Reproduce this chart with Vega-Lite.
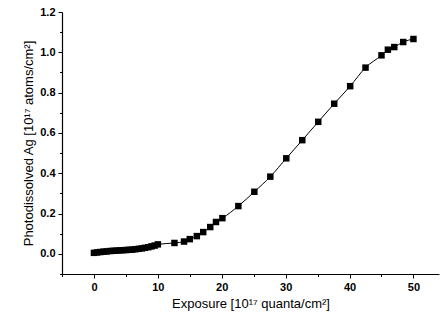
{
  "$schema": "https://vega.github.io/schema/vega-lite/v6.json",
  "autosize": {"type": "none"},
  "width": 377,
  "height": 262,
  "padding": {"left": 62, "top": 12, "right": 4, "bottom": 46},
  "background": "white",
  "config": {
    "view": {"stroke": null},
    "axis": {
      "domainColor": "black",
      "tickColor": "black",
      "labelColor": "black",
      "titleColor": "black",
      "labelFont": "Liberation Sans",
      "titleFont": "Liberation Sans",
      "labelFontWeight": "bold",
      "titleFontWeight": "normal",
      "labelFontSize": 11,
      "titleFontSize": 13,
      "grid": false,
      "domainWidth": 1.2,
      "tickWidth": 1
    }
  },
  "data": {
    "values": [
      {"x": 0, "y": 0.005}, {"x": 0.5, "y": 0.007}, {"x": 1, "y": 0.009}, {"x": 1.5, "y": 0.011},
      {"x": 2, "y": 0.012}, {"x": 2.5, "y": 0.014}, {"x": 3, "y": 0.015}, {"x": 3.5, "y": 0.016},
      {"x": 4, "y": 0.017}, {"x": 4.5, "y": 0.018}, {"x": 5, "y": 0.019}, {"x": 5.5, "y": 0.020},
      {"x": 6, "y": 0.021}, {"x": 6.5, "y": 0.023}, {"x": 7, "y": 0.025}, {"x": 7.5, "y": 0.027},
      {"x": 8, "y": 0.030}, {"x": 8.5, "y": 0.033}, {"x": 9, "y": 0.037}, {"x": 9.5, "y": 0.041},
      {"x": 10, "y": 0.047},
      {"x": 12.6, "y": 0.054}, {"x": 14.1, "y": 0.061}, {"x": 15.0, "y": 0.073}, {"x": 16.1, "y": 0.088},
      {"x": 17.1, "y": 0.108}, {"x": 18.2, "y": 0.133}, {"x": 19.1, "y": 0.158}, {"x": 20.1, "y": 0.177},
      {"x": 22.6, "y": 0.237}, {"x": 25.1, "y": 0.308}, {"x": 27.6, "y": 0.383}, {"x": 30.1, "y": 0.474},
      {"x": 32.6, "y": 0.564}, {"x": 35.1, "y": 0.655}, {"x": 37.6, "y": 0.745}, {"x": 40.1, "y": 0.832},
      {"x": 42.5, "y": 0.924}, {"x": 45.0, "y": 0.985}, {"x": 46.0, "y": 1.013}, {"x": 47.0, "y": 1.026},
      {"x": 48.4, "y": 1.051}, {"x": 50.0, "y": 1.066}
    ]
  },
  "resolve": {"axis": {"x": "independent", "y": "independent"}},
  "layer": [
    {
      "mark": {"type": "line", "color": "black", "strokeWidth": 1, "interpolate": "monotone"},
      "encoding": {
        "x": {"field": "x", "type": "quantitative", "scale": {"domain": [-5, 54], "nice": false, "zero": false},
          "axis": {"orient": "bottom", "values": [0, 10, 20, 30, 40, 50], "tickSize": 4, "labelPadding": 3,
            "title": "Exposure [10¹⁷ quanta/cm²]", "titlePadding": 5}},
        "y": {"field": "y", "type": "quantitative", "scale": {"domain": [-0.1, 1.2], "nice": false, "zero": false},
          "axis": {"orient": "left", "values": [0, 0.2, 0.4, 0.6, 0.8, 1.0, 1.2], "format": ".1f", "tickSize": 4, "labelPadding": 3,
            "title": "Photodissolved Ag [10¹⁷ atoms/cm²]", "titlePadding": 4}}
      }
    },
    {
      "mark": {"type": "point", "shape": "square", "filled": true, "color": "black", "size": 42, "opacity": 1},
      "encoding": {
        "x": {"field": "x", "type": "quantitative",
          "axis": {"orient": "bottom", "values": [-5, 5, 15, 25, 35, 45], "tickSize": 2.5, "labels": false, "title": null, "domain": false}},
        "y": {"field": "y", "type": "quantitative",
          "axis": {"orient": "left", "values": [-0.1, 0.1, 0.3, 0.5, 0.7, 0.9, 1.1], "tickSize": 2.5, "labels": false, "title": null, "domain": false}}
      }
    }
  ]
}
